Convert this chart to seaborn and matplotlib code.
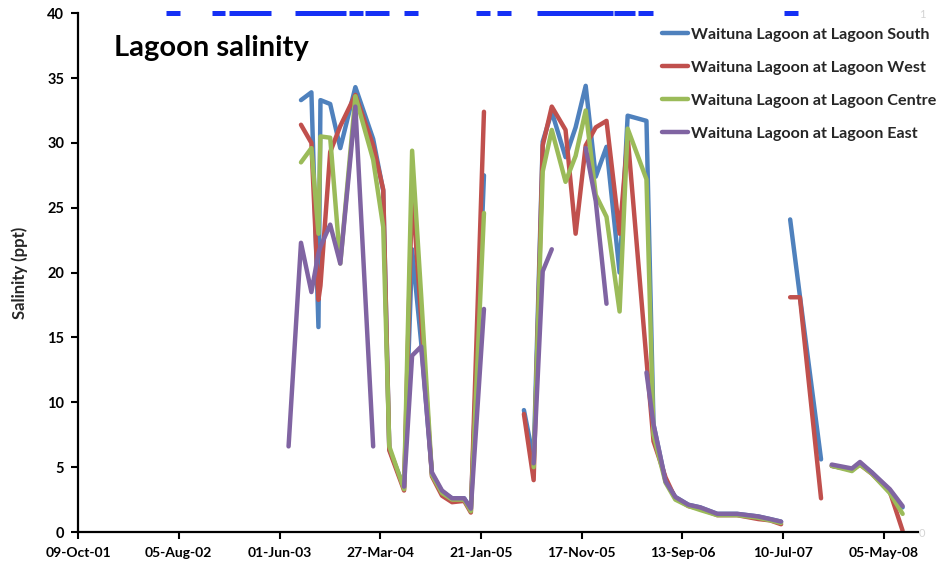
import numpy as np
import pandas as pd
import matplotlib
matplotlib.use("Agg")
import matplotlib.pyplot as plt
import matplotlib.dates as mdates
import seaborn as sns

# ---------------- data ----------------
dates = ["2003-06-28", "2003-08-04", "2003-09-04", "2003-09-25", "2003-10-01",
         "2003-10-30", "2003-11-29", "2004-01-13", "2004-03-06", "2004-04-05",
         "2004-04-23", "2004-06-06", "2004-06-30", "2004-07-27", "2004-08-28",
         "2004-09-27", "2004-10-27", "2004-12-02", "2004-12-22", "2005-01-30",
         "2005-04-01", "2005-05-29", "2005-06-27", "2005-07-24", "2005-08-20",
         "2005-09-30", "2005-10-30", "2005-11-29", "2005-12-29", "2006-01-30",
         "2006-03-10", "2006-04-03", "2006-05-29", "2006-06-19", "2006-07-25",
         "2006-08-23", "2006-10-01", "2006-11-05", "2006-12-26", "2007-02-23",
         "2007-04-27", "2007-06-01", "2007-07-04", "2007-07-18", "2007-07-31",
         "2007-08-29", "2007-10-31", "2007-11-15", "2007-12-02", "2008-01-31",
         "2008-02-24", "2008-03-30", "2008-05-23", "2008-06-30"]

south = [None, 33.3, 33.9, 15.8, 33.3, 33.0, 29.6, 34.3, 30.3, 26.3,
         6.4, 3.4, 21.8, 14.6, 4.5, 3.1, 2.6, 2.6, 1.8, 27.5,
         None, 9.4, 5.6, 30.1, 32.4, 28.9, 31.2, 34.4, 27.4, 29.7,
         20.0, 32.1, 31.7, 8.3, 3.9, 2.7, 2.1, 1.9, 1.4, 1.4,
         1.2, 1.0, 0.8, None, 24.1, 18.2, 5.6, None, 5.1, 4.8,
         5.3, 4.6, 3.2, 1.9]
west = [None, 31.4, 30.0, 17.9, 19.0, 29.3, 31.3, 33.7, 29.8, 26.4,
        6.3, 3.2, 26.5, 16.5, 4.3, 2.8, 2.3, 2.4, 1.5, 32.4,
        None, 9.1, 4.0, 29.8, 32.8, 31.0, 23.0, 29.8, 31.2, 31.7,
        23.0, 30.5, 13.3, 7.0, 4.2, 2.6, 2.0, 1.8, 1.3, 1.3,
        1.0, 0.9, 0.6, None, 18.1, 18.1, 2.6, None, 5.1, 4.8,
        5.2, 4.5, 3.1, 0.1]
centre = [None, 28.5, 29.6, 23.0, 30.5, 30.4, 20.7, 33.6, 28.7, 23.5,
          6.6, 3.3, 29.4, 18.2, 4.4, 3.0, 2.5, 2.5, 1.6, 24.6,
          None, None, 5.0, 27.8, 31.0, 27.0, 29.0, 32.5, 26.0, 24.3,
          17.0, 31.1, 27.2, 7.5, 3.8, 2.5, 2.0, 1.7, 1.3, 1.3,
          1.1, 0.9, 0.7, None, None, None, None, None, 5.1, 4.7,
          5.2, 4.5, 3.0, 1.4]
east = [6.6, 22.3, 18.5, 21.5, 22.0, 23.7, 20.7, 32.8, 6.6, None,
        None, 3.5, 13.6, 14.3, 4.6, 3.2, 2.6, 2.6, 1.8, 17.2,
        None, None, 5.3, 20.1, 21.8, None, None, 29.6, 25.5, 17.6,
        None, None, 12.3, 8.3, 3.9, 2.7, 2.1, 1.9, 1.4, 1.4,
        1.2, 1.0, 0.8, None, None, None, None, None, 5.2, 4.9,
        5.4, 4.6, 3.3, 2.0]

site_names = ["Waituna Lagoon at Lagoon South", "Waituna Lagoon at Lagoon West",
              "Waituna Lagoon at Lagoon Centre", "Waituna Lagoon at Lagoon East"]
site_colors = ["#4F81BD", "#C0504D", "#9BBB59", "#8064A2"]

# lagoon open periods (secondary axis indicator = 1)
open_start = ["2002-06-27", "2002-11-11", "2003-01-03", "2003-07-17", "2003-12-24",
              "2004-02-12", "2004-06-07", "2005-01-07", "2005-03-10", "2005-07-07",
              "2006-02-21", "2006-05-05", "2007-07-13"]
open_end = ["2002-08-08", "2002-12-22", "2003-05-07", "2003-12-15", "2004-02-04",
            "2004-04-21", "2004-07-19", "2005-02-17", "2005-04-21", "2006-02-19",
            "2006-04-24", "2006-06-16", "2007-08-23"]

tick_start = "2001-10-09"
x_end = "2008-08-14"

# ---------------- build long table ----------------
rows = []
seg = 0
for name, vals in zip(site_names, [south, west, centre, east]):
    seg += 1
    for d, v in zip(dates, vals):
        if v is None:
            seg += 1
            continue
        rows.append({"date": pd.Timestamp(d), "salinity": v, "site": name, "seg": seg})
df = pd.DataFrame(rows)

# ---------------- plot ----------------
sns.set_theme(style="white")
plt.rcParams["font.family"] = ["Lato", "DejaVu Sans"]

fig = plt.figure(figsize=(9.52, 5.67), dpi=100)
ax = fig.add_axes([0.082, 0.0617, 0.882, 0.915])

sns.lineplot(data=df, x="date", y="salinity", hue="site", units="seg",
             estimator=None, hue_order=site_names,
             palette=dict(zip(site_names, site_colors)),
             linewidth=3.2, ax=ax, sort=True)

ax.set_ylim(0, 40)
ax.set_yticks(np.arange(0, 41, 5))
x0 = pd.Timestamp(tick_start)
ax.set_xlim(x0, pd.Timestamp(x_end))
xt = [x0 + pd.Timedelta(days=300 * i) for i in range(9)]
ax.set_xticks(xt)
ax.xaxis.set_major_formatter(mdates.DateFormatter("%d-%b-%y"))

for s in ["top", "right"]:
    ax.spines[s].set_visible(False)
for s in ["left", "bottom"]:
    ax.spines[s].set_color("black")
    ax.spines[s].set_linewidth(1.6)
ax.tick_params(axis="both", direction="out", length=5, width=1.5, colors="black",
               left=True, bottom=True)
ax.tick_params(axis="x", pad=6, labelsize=10)
ax.tick_params(axis="y", pad=5, labelsize=10.5)
for lab in ax.get_xticklabels() + ax.get_yticklabels():
    lab.set_fontweight("bold")

ax.set_xlabel("")
ax.set_ylabel("Salinity (ppt)", fontsize=12, fontweight="bold", labelpad=14)

ax.text(0.043, 0.958, "Lagoon salinity", transform=ax.transAxes,
        fontsize=21, fontweight="bold", va="top", ha="left", color="black")

handles, labels = ax.get_legend_handles_labels()
for h in handles:
    h.set_linewidth(3.2)
leg = ax.legend(handles, labels, loc="upper left", bbox_to_anchor=(0.689, 0.963),
                bbox_transform=fig.transFigure, frameon=False,
                prop={"family": ["Lato", "DejaVu Sans"], "weight": "bold", "size": 11.6},
                handlelength=1.6, handletextpad=0.2, labelspacing=1.16,
                borderaxespad=0)

# secondary axis: lagoon open indicator
ax2 = ax.twinx()
ax2.set_ylim(0, 1)
ax2.set_yticks([0, 1])
ax2.tick_params(axis="y", length=0, labelsize=8, labelcolor="#d4d4d4", pad=1)
for s in ax2.spines.values():
    s.set_visible(False)
ax2.hlines([1] * len(open_start), pd.to_datetime(open_start), pd.to_datetime(open_end),
           colors="#1530F5", linewidth=3.6, clip_on=False)
ax2.grid(False)
ax.grid(False)

fig.savefig("out.png", dpi=100, facecolor="white")
